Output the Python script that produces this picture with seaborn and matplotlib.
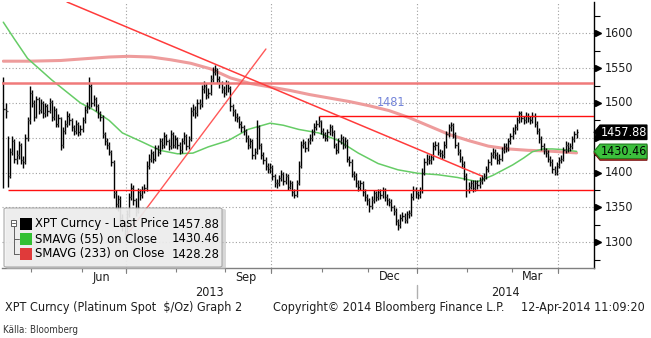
import numpy as np
import pandas as pd
import matplotlib
matplotlib.use("Agg")
import matplotlib.pyplot as plt
import seaborn as sns
from matplotlib.patches import Polygon, FancyBboxPatch, Rectangle
from matplotlib.lines import Line2D
from matplotlib.transforms import blended_transform_factory
from matplotlib.font_manager import FontProperties

sns.set_style("white")
plt.rcParams["font.family"] = ["DejaVu Sans"]

# ---------------- daily platinum spot bars (USD/oz) ----------------
close = [
    1492, 1488, 1395, 1430, 1445, 1420, 1425, 1440, 1418, 1415,
    1450, 1475, 1515, 1500, 1480, 1505, 1490, 1500, 1485, 1495,
    1488, 1502, 1480, 1490, 1470, 1478, 1440, 1460, 1470, 1482,
    1475, 1465, 1460, 1470, 1458, 1462, 1475, 1490, 1495, 1525,
    1500, 1505, 1495, 1485, 1480, 1455, 1445, 1440, 1430, 1415,
    1370, 1355, 1362, 1335, 1325, 1315, 1340, 1365, 1378, 1360,
    1345, 1372, 1368, 1375, 1378, 1410, 1420, 1428, 1420, 1435,
    1430, 1445, 1440, 1452, 1445, 1438, 1455, 1440, 1448, 1440,
    1432, 1445, 1452, 1438, 1448, 1488, 1492, 1485, 1500, 1498,
    1520, 1525, 1512, 1515, 1535, 1545, 1548, 1535, 1528, 1520,
    1515, 1528, 1522, 1495, 1488, 1480, 1478, 1470, 1465, 1460,
    1450, 1440, 1445, 1425, 1430, 1465, 1440, 1425, 1418, 1410,
    1405, 1408, 1395, 1385, 1385, 1392, 1398, 1388, 1395, 1380,
    1385, 1372, 1368, 1385, 1410, 1440, 1442, 1435, 1445, 1450,
    1458, 1465, 1470, 1474, 1460, 1455, 1450, 1458, 1465, 1458,
    1440, 1432, 1445, 1450, 1440, 1445, 1420, 1415, 1398, 1395,
    1385, 1380, 1385, 1372, 1365, 1360, 1352, 1360, 1370, 1365,
    1372, 1368, 1375, 1365, 1360, 1358, 1350, 1345, 1330, 1325,
    1335, 1338, 1332, 1340, 1342, 1365, 1375, 1370, 1368, 1375,
    1400, 1415, 1420, 1418, 1422, 1438, 1440, 1430, 1428, 1425,
    1440, 1455, 1465, 1468, 1455, 1440, 1430, 1420, 1412, 1395,
    1375, 1380, 1385, 1378, 1385, 1382, 1388, 1392, 1395, 1405,
    1415, 1425, 1430, 1425, 1418, 1420, 1432, 1438, 1435, 1445,
    1452, 1460, 1465, 1475, 1485, 1478, 1475, 1482, 1478, 1475,
    1482, 1470, 1460, 1448, 1438, 1432, 1428, 1420, 1415, 1405,
    1400, 1410, 1418, 1420, 1432, 1440, 1435, 1438, 1448, 1455,
    1457.88,
]
high = [
    1537, 1500, 1452, 1436, 1452, 1448, 1433, 1446, 1442, 1424,
    1456, 1480, 1525, 1518, 1504, 1510, 1508, 1506, 1503, 1500,
    1498, 1507, 1504, 1496, 1493, 1484, 1480, 1465, 1476, 1488,
    1486, 1478, 1469, 1476, 1473, 1468, 1480, 1495, 1502, 1537,
    1528, 1512, 1509, 1498, 1489, 1483, 1459, 1449, 1444, 1433,
    1418, 1375, 1368, 1366, 1340, 1330, 1346, 1370, 1385, 1382,
    1364, 1378, 1376, 1381, 1384, 1416, 1426, 1434, 1431, 1440,
    1439, 1450, 1449, 1458, 1456, 1448, 1461, 1458, 1454, 1451,
    1444, 1450, 1458, 1455, 1453, 1494, 1498, 1496, 1506, 1505,
    1526, 1531, 1528, 1521, 1540, 1551, 1554, 1550, 1539, 1532,
    1524, 1533, 1532, 1525, 1499, 1492, 1485, 1481, 1474, 1469,
    1463, 1454, 1450, 1448, 1436, 1475, 1468, 1443, 1429, 1422,
    1414, 1414, 1411, 1398, 1391, 1397, 1404, 1401, 1400, 1398,
    1390, 1388, 1376, 1390, 1416, 1446, 1448, 1446, 1450, 1455,
    1463, 1471, 1476, 1481, 1475, 1464, 1459, 1463, 1470, 1468,
    1461, 1443, 1450, 1456, 1453, 1451, 1448, 1424, 1419, 1402,
    1399, 1389, 1390, 1388, 1376, 1369, 1364, 1366, 1375, 1374,
    1377, 1376, 1380, 1378, 1369, 1364, 1362, 1354, 1349, 1334,
    1340, 1343, 1342, 1345, 1347, 1371, 1381, 1379, 1374, 1380,
    1406, 1421, 1426, 1425, 1427, 1444, 1446, 1444, 1434, 1432,
    1445, 1460, 1470, 1472, 1471, 1459, 1444, 1434, 1424, 1416,
    1399, 1386, 1390, 1389, 1390, 1389, 1393, 1397, 1400, 1410,
    1420, 1430, 1435, 1434, 1429, 1426, 1437, 1443, 1442, 1450,
    1457, 1465, 1470, 1480, 1489, 1488, 1482, 1487, 1486, 1482,
    1487, 1485, 1474, 1464, 1452, 1442, 1436, 1432, 1424, 1419,
    1409, 1415, 1423, 1425, 1437, 1445, 1444, 1443, 1453, 1460,
    1463,
]
low = [
    1378, 1478, 1379, 1392, 1425, 1414, 1412, 1420, 1412, 1406,
    1412, 1446, 1470, 1494, 1474, 1478, 1484, 1486, 1479, 1480,
    1482, 1485, 1474, 1476, 1465, 1466, 1432, 1436, 1455, 1466,
    1469, 1460, 1454, 1456, 1452, 1454, 1458, 1471, 1486, 1492,
    1494, 1496, 1489, 1479, 1474, 1450, 1440, 1434, 1425, 1410,
    1364, 1348, 1345, 1328, 1316, 1305, 1310, 1336, 1360, 1354,
    1338, 1342, 1360, 1364, 1370, 1374, 1405, 1415, 1414, 1417,
    1424, 1426, 1434, 1436, 1439, 1432, 1434, 1435, 1436, 1434,
    1426, 1428, 1441, 1432, 1434, 1445, 1482, 1479, 1481, 1492,
    1494, 1515, 1506, 1507, 1511, 1530, 1540, 1529, 1522, 1514,
    1509, 1511, 1516, 1489, 1482, 1474, 1472, 1464, 1459, 1454,
    1444, 1434, 1436, 1420, 1420, 1426, 1434, 1419, 1412, 1404,
    1399, 1400, 1389, 1380, 1378, 1381, 1388, 1382, 1384, 1375,
    1376, 1367, 1363, 1365, 1382, 1406, 1435, 1429, 1431, 1441,
    1446, 1454, 1461, 1466, 1455, 1449, 1445, 1446, 1454, 1452,
    1435, 1427, 1428, 1441, 1434, 1436, 1415, 1409, 1393, 1389,
    1380, 1374, 1375, 1367, 1359, 1354, 1343, 1348, 1356, 1359,
    1361, 1362, 1364, 1359, 1354, 1352, 1345, 1339, 1325, 1318,
    1321, 1330, 1327, 1328, 1335, 1338, 1361, 1364, 1362, 1364,
    1371, 1396, 1411, 1412, 1413, 1418, 1433, 1425, 1422, 1419,
    1421, 1436, 1451, 1460, 1450, 1435, 1425, 1415, 1406, 1390,
    1365, 1370, 1376, 1372, 1374, 1377, 1378, 1384, 1388, 1391,
    1401, 1411, 1421, 1419, 1413, 1413, 1416, 1428, 1430, 1431,
    1441, 1448, 1456, 1461, 1471, 1473, 1470, 1471, 1473, 1470,
    1471, 1465, 1455, 1443, 1433, 1427, 1423, 1415, 1410, 1400,
    1396, 1397, 1406, 1414, 1416, 1428, 1430, 1431, 1434, 1444,
    1450,
]
first_open = 1530

# moving averages (bar number, value)
sma55_bar = [0, 5, 11, 22, 35, 41, 48, 54, 63, 71, 79, 86, 93, 102, 111, 121,
             127, 134, 143, 152, 161, 170, 179, 188, 197, 206, 215, 222, 231,
             236, 240, 245, 249, 254, 260]
sma55 = [1616, 1592, 1564, 1533, 1500, 1490, 1475, 1457, 1444, 1432, 1427, 1428,
         1437, 1446, 1462, 1471, 1468, 1462, 1457, 1446, 1428, 1413, 1404, 1399,
         1397, 1393, 1387, 1396, 1411, 1421, 1430, 1434, 1434, 1433, 1430.46]
sma233_bar = [0, 12, 26, 39, 48, 57, 67, 76, 85, 94, 103, 112, 121, 130, 139, 148,
              157, 166, 175, 184, 193, 202, 211, 220, 229, 238, 247, 260]
sma233 = [1560, 1560, 1561, 1564, 1566, 1567, 1566, 1562, 1557, 1549, 1536, 1528,
          1523, 1518, 1512, 1507, 1502, 1496, 1489, 1479, 1467, 1455, 1446, 1438,
          1434, 1432, 1431, 1428.28]

# drawn study lines
resistance = 1529
support = 1375
support_from_bar = 2
recent_high = 1481
recent_high_bar = 143
down_trend_bar = [28.9, 217.1]
down_trend_px = [1645, 1395]
up_trend_bar = [55.6, 119.1]
up_trend_px = [1309, 1577.5]

last_price = close[-1]
last_sma55 = sma55[-1]
last_sma233 = sma233[-1]

y_major = [1300, 1350, 1400, 1450, 1500, 1550, 1600]
y_minor = [1275, 1325, 1375, 1425, 1475, 1525, 1575, 1625]
month_labels = {6: "Jun", 9: "Sep", 12: "Dec", 3: "Mar"}
quarter_months = [7, 10, 1, 4]

dates = pd.bdate_range("2013-04-12", "2014-04-11")
bars = np.arange(len(dates))
c = np.array(close, float)
h = np.array(high, float)
lo = np.array(low, float)
o = np.r_[first_open, c[:-1]]

# ---------------- figure layout (pixel based) ----------------
W, H = 651, 338
fig = plt.figure(figsize=(W / 100, H / 100), dpi=100)
fig.patch.set_facecolor("white")
L, R, T, B = 2, 594, 2, 268
ax = fig.add_axes([L / W, 1 - B / H, (R - L) / W, (B - T) / H])
ax.set_facecolor("white")
ax.set_xlim(-0.59, 267.9)
ax.set_ylim(1263, 1645)
blend = blended_transform_factory(ax.transAxes, ax.transData)
xy_lab = blended_transform_factory(ax.transData, ax.transAxes)
TXT = "#1e1e1e"


def P(x, y):
    return x / W, 1 - y / H


def font(size, narrow=False):
    if narrow:
        return FontProperties(family=["Liberation Sans Narrow", "DejaVu Sans"],
                              stretch="condensed", size=size)
    return FontProperties(family="DejaVu Sans", stretch="condensed", size=size)


renderer = fig.canvas.get_renderer()


def fit(t, width_px):
    w = t.get_window_extent(renderer).width
    t.set_fontsize(t.get_fontsize() * width_px / w)
    return t


# one text size for the panel, taken from the footer line
footer = fig.text(*P(5, 308), "XPT Curncy (Platinum Spot  $/Oz) Graph 2", ha="left",
                  va="center", fontproperties=font(8), color=TXT)
fit(footer, 236)
FS = footer.get_fontsize()


def ftext(x, y, s, ha="left", color=TXT, size=None, narrow=False, **kw):
    return fig.text(*P(x, y), s, ha=ha, va="center",
                    fontproperties=font(size or FS, narrow), color=color, **kw)


# gridlines
grid_kw = dict(color="#a0a0a0", lw=0.8, ls=(0, (1, 2)), zorder=0)
for v in y_major:
    ax.axhline(v, **grid_kw)
month_start = [i for i in range(len(dates)) if i == 0 or dates[i].month != dates[i - 1].month]
bounds = [i - 0.5 for i in month_start[1:]]
bound_months = [dates[i].month for i in month_start[1:]]
for b, m in zip(bounds, bound_months):
    if m in quarter_months:
        ax.axvline(b, **grid_kw)
        ax.plot([b, b], [0, -0.018], transform=xy_lab, color="#808080", lw=0.8, clip_on=False)

# moving averages
sns.lineplot(x=sma233_bar, y=sma233, ax=ax, color="#ee9c9c", lw=2.2, zorder=2)
sns.lineplot(x=sma55_bar, y=sma55, ax=ax, color="#66cc66", lw=1.1, zorder=2)

# price bars
ax.vlines(bars, lo, h, color="black", lw=1.0, zorder=3)
ax.hlines(c, bars, bars + 0.6, color="black", lw=0.9, zorder=3)
ax.hlines(o, bars - 0.6, bars, color="#555555", lw=0.9, zorder=3)

# study lines
ax.axhline(resistance, color="#f07a7a", lw=1.8, zorder=4)
ax.hlines(support, support_from_bar, 267.9, color="#ff1010", lw=1.0, zorder=4)
ax.hlines(recent_high, recent_high_bar, 267.9, color="#ff1010", lw=1.0, zorder=4)
ax.plot(down_trend_bar, down_trend_px, color="#ff3b3b", lw=1.1, zorder=4)
ax.plot(up_trend_bar, up_trend_px, color="#ff3b3b", lw=1.0, alpha=0.85, zorder=4)
ax.text(176, recent_high + 14 / 0.6967, f"{recent_high}", color="#7384d9",
        ha="center", va="center", fontproperties=font(FS), zorder=5)

# spines and ticks
for s in ["top", "left"]:
    ax.spines[s].set_visible(False)
ax.spines["right"].set_color("black")
ax.spines["right"].set_linewidth(1.0)
ax.spines["bottom"].set_color("#808080")
ax.spines["bottom"].set_linewidth(1.0)
ax.yaxis.tick_right()
ax.set_yticks(y_minor)
ax.tick_params(axis="y", which="major", right=True, left=False, length=4, width=0.8,
               color="black", direction="out", labelright=False, labelleft=False)
ax.set_xticks(bounds)
ax.tick_params(axis="x", bottom=True, length=3, width=0.8, color="#808080",
               direction="out", labelbottom=False)
ax.set_xlabel("")
ax.set_ylabel("")

ax.plot([(598 - L) / (R - L)] * len(y_major), y_major, ls="none", marker=">", ms=5,
        color="black", transform=blend, clip_on=False)
tag_half = 10.5
covered = [last_price, last_sma55, last_sma233]
for v in y_major:
    if any(abs(v - cv) < tag_half + 4 for cv in covered):
        continue  # hidden behind the value tags
    ax.text((605 - L) / (R - L), v, f"{v}", transform=blend, ha="left", va="center",
            fontproperties=font(FS), color=TXT, clip_on=False)

# month / year labels
edges = [-0.5] + bounds + [len(dates) - 0.5]
for k, i0 in enumerate(month_start):
    m = dates[i0].month
    if m in month_labels:
        mid = (edges[k] + edges[k + 1]) / 2
        ax.text(mid - 1, (B - 277) / (B - T), month_labels[m], transform=xy_lab,
                ha="center", va="center", fontproperties=font(FS), color=TXT)
jan = bounds[bound_months.index(1)]
jan_px = ax.transData.transform((jan, 0))[0]
ftext((L + jan_px) / 2, 292, "2013", ha="center")
ftext((jan_px + R) / 2, 292, "2014", ha="center")
fig.add_artist(Line2D([jan_px / W] * 2, [1 - 285 / H, 1 - 298 / H], color="#b0b0b0", lw=1.0))

# footer
ftext(273, 308, "Copyright\u00a9 2014 Bloomberg Finance L.P.")
ftext(645, 308, "12-Apr-2014 11:09:20", ha="right")
kalla = ftext(3, 330, "Källa: Bloomberg", narrow=True, color="#333333", size=8)
fit(kalla, 74)


# last-value tags on the price axis
def tag(value, face, edge, txt, txtcolor):
    hh = tag_half
    x0, x1 = (600 - L) / (R - L), (647 - L) / (R - L)
    poly = Polygon([(1.0, value), (x0, value + hh), (x1, value + hh), (x1, value - hh),
                    (x0, value - hh)], closed=True, transform=blend, clip_on=False,
                   facecolor=face, edgecolor=edge, lw=0.8, zorder=10)
    ax.add_patch(poly)
    if txt:
        ax.text((624 - L) / (R - L), value, txt, transform=blend, ha="center",
                va="center", fontproperties=font(FS), color=txtcolor, zorder=11,
                clip_on=False)


tag(last_sma233, "#cc2b2b", "#7a1010", None, "white")
tag(last_sma55, "#3cbf3c", "#1c7a1c", f"{last_sma55:.2f}", "black")
tag(last_price, "black", "black", f"{last_price:.2f}", "white")

# legend panel
fig.add_artist(FancyBboxPatch(P(6, 269), 220 / W, 60 / H, boxstyle="round,pad=0,rounding_size=0.004",
                              transform=fig.transFigure, facecolor="#bdbdbd", edgecolor="none",
                              alpha=0.6, zorder=20))
fig.add_artist(FancyBboxPatch(P(4, 267), 218 / W, 59 / H, boxstyle="round,pad=0,rounding_size=0.004",
                              transform=fig.transFigure, facecolor="#f2f2f2", edgecolor="#9a9a9a",
                              lw=0.8, alpha=0.82, zorder=21))
tree = "#606060"
fig.add_artist(Rectangle(P(11, 226), 5 / W, 6 / H, transform=fig.transFigure, facecolor="white",
                         edgecolor=tree, lw=0.7, zorder=22))
for (xa, ya), (xb, yb) in [((12, 223), (15, 223)), ((13.5, 226), (13.5, 254)),
                           ((13.5, 239), (19, 239)), ((13.5, 254), (19, 254))]:
    fig.add_artist(Line2D([xa / W, xb / W], [1 - ya / H, 1 - yb / H], color=tree, lw=0.7, zorder=22))
rows = [("XPT Curncy - Last Price", f"{last_price:.2f}", "black", 224),
        ("SMAVG (55) on Close", f"{last_sma55:.2f}", "#33c033", 239),
        ("SMAVG (233) on Close", f"{last_sma233:.2f}", "#e03a3a", 254)]
probe = ftext(35, 224, rows[0][0], color="black", zorder=23)
fit(probe, 135)
FL = probe.get_fontsize()
for k, (name, val, col, yy) in enumerate(rows):
    fig.add_artist(Rectangle(P(20, yy + 6), 12 / W, 12 / H, transform=fig.transFigure,
                             facecolor=col, edgecolor="none", zorder=22))
    if k:
        ftext(35, yy, name, color="black", size=FL, zorder=23)
    ftext(220, yy, val, ha="right", color="black", size=FL, zorder=23)

fig.savefig("out.png", dpi=100, facecolor="white")
